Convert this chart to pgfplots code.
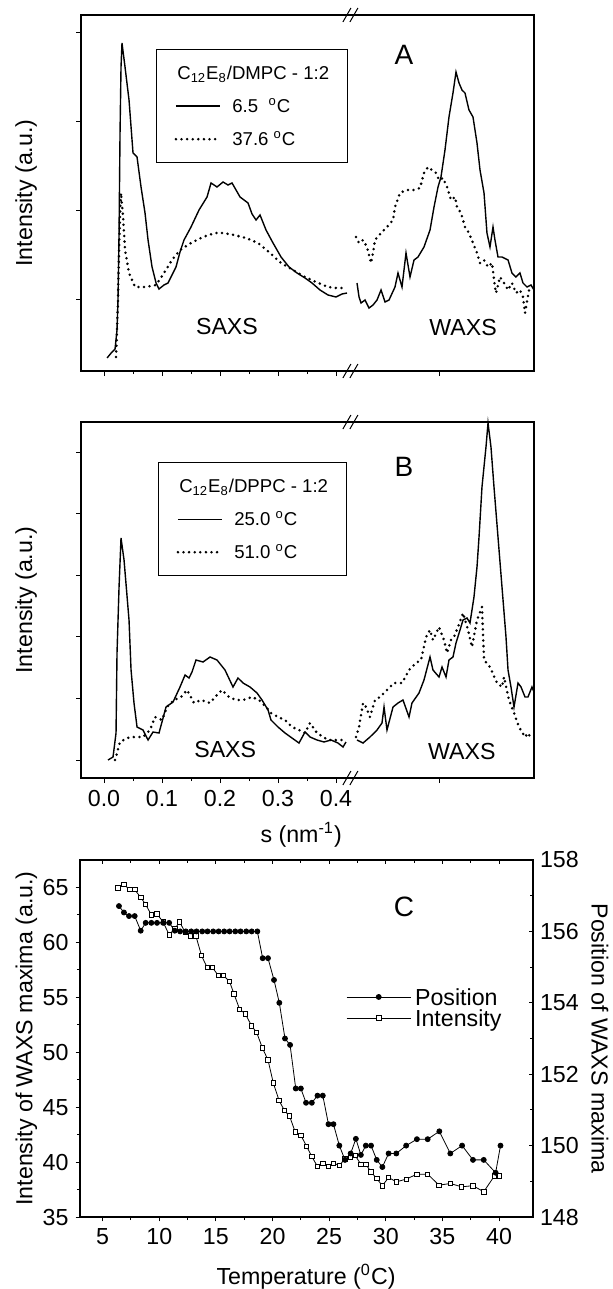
\documentclass[border=0pt]{standalone}
\usepackage{fontspec}
\setmainfont{Liberation Sans}
\usepackage{pgfplots}
\pgfplotsset{compat=1.18}
\newcommand{\mainsize}{\fontsize{11.6}{13.9}\selectfont}
\newcommand{\legsize}{\fontsize{9.3}{11}\selectfont}
\newcommand{\lettersize}{\fontsize{14}{16}\selectfont}
\pgfplotsset{
 panel/.style={
  scale only axis, width=226.5pt, height=178pt, anchor=south west,
  clip=false,
  xmin=-0.0397, xmax=0.7414, ymin=0, ymax=356,
  axis line style={line width=0.6pt},
  tick align=outside, xtick pos=bottom, ytick pos=left,
  major tick length=2.5pt, minor tick length=1.5pt,
  every tick/.style={line width=0.5pt, black},
  xtick={0,0.1,0.2,0.3,0.4}, minor xtick={0.05,0.15,0.25,0.35},
  extra x ticks={0.5793}, extra x tick labels={},
  yticklabels={},
  font=\mainsize, tick label style={font=\mainsize},
  /pgf/number format/assume math mode=true,
  ylabel={Intensity (a.u.)},
  every axis y label/.style={at={(axis description cs:-0.1214,0.5)}, rotate=90, anchor=center},
  legend cell align=left,
  legend image code/.code={\draw[##1] (0pt,0pt) -- (22pt,0pt);},
  legend style={draw=black, line width=0.5pt, font=\legsize, inner xsep=9pt, inner ysep=8.5pt,
    row sep=9.8pt, column sep=5.5pt, nodes={inner sep=0pt, text height=6.7pt, text depth=0pt}},
 },
 solidc/.style={black, line width=0.7pt},
 dotc/.style={black, line width=1.4pt, line cap=round, dash pattern=on 0pt off 2.8pt},
}
\newcommand{\brk}{%
 \draw[line width=0.5pt] (rel axis cs:0.598,0) ++(-4.5pt,-3.5pt) -- ++(4pt,7pt);
 \draw[line width=0.5pt] (rel axis cs:0.598,0) ++(-1pt,-3.5pt) -- ++(4pt,7pt);
 \draw[line width=0.5pt] (rel axis cs:0.598,1) ++(-4.5pt,-3.5pt) -- ++(4pt,7pt);
 \draw[line width=0.5pt] (rel axis cs:0.598,1) ++(-1pt,-3.5pt) -- ++(4pt,7pt);}
\begin{document}
\begin{tikzpicture}
% ---------------- Panel A ----------------
\begin{axis}[panel, at={(40.5pt,-185.5pt)},
  ytick={72,160,249,338}, xticklabels={},
  legend style={at={(rel axis cs:0.1656,0.9045)}, anchor=north west}]
\addlegendimage{empty legend}
\addlegendentry{\hspace*{-27.5pt}C\textsubscript{12}E\textsubscript{8}/DMPC - 1:2}
\addplot[solidc] coordinates {
(0.0052,13)(0.0138,19)(0.0190,22)(0.0224,41)(0.0241,71)(0.0259,138)(0.0276,238)(0.0293,304)
(0.0310,328)(0.0362,304)(0.0431,271)(0.0500,218)(0.0569,214)(0.0638,184)(0.0707,158)(0.0759,131)
(0.0828,104)(0.0897,88)(0.0948,82)(0.1034,86)(0.1103,88)(0.1172,96)(0.1241,104)(0.1310,119)
(0.1379,131)(0.1500,144)(0.1638,161)(0.1776,174)(0.1845,188)(0.1948,184)(0.2052,189)(0.2138,186)
(0.2207,188)(0.2345,174)(0.2483,168)(0.2552,157)(0.2621,151)(0.2690,156)(0.2793,141)(0.2914,128)
(0.3052,114)(0.3190,104)(0.3328,98)(0.3466,93)(0.3586,88)(0.3724,81)(0.3862,76)(0.4000,74)
(0.4103,77)(0.4190,78)};
\addlegendentry{6.5\ \ \textsuperscript{o}C}
\addplot[dotc] coordinates {
(0.0207,14)(0.0224,41)(0.0241,71)(0.0259,121)(0.0276,156)(0.0293,178)(0.0328,154)(0.0362,121)
(0.0431,98)(0.0534,84)(0.0707,84)(0.0897,86)(0.1034,98)(0.1172,111)(0.1310,121)(0.1500,128)
(0.1707,134)(0.1914,138)(0.2052,138)(0.2241,136)(0.2448,133)(0.2655,128)(0.2862,118)(0.3052,108)
(0.3259,101)(0.3466,94)(0.3655,89)(0.3862,84)(0.4000,83)(0.4138,83)};
\addlegendentry{37.6 \textsuperscript{o}C}
\addplot[solidc, forget plot] coordinates {
(0.4362,88)(0.4397,74)(0.4431,68)(0.4500,71)(0.4569,63)(0.4638,66)(0.4707,71)(0.4776,81)
(0.4845,69)(0.4914,71)(0.5017,84)(0.5069,98)(0.5138,84)(0.5207,118)(0.5276,94)(0.5345,111)
(0.5414,114)(0.5517,124)(0.5621,141)(0.5690,164)(0.5759,184)(0.5810,194)(0.5879,221)(0.5948,254)
(0.6017,278)(0.6069,299)(0.6121,288)(0.6172,281)(0.6224,278)(0.6293,261)(0.6362,254)(0.6431,228)
(0.6483,201)(0.6552,178)(0.6603,138)(0.6655,124)(0.6707,144)(0.6741,131)(0.6793,114)(0.6862,114)
(0.6966,111)(0.7034,98)(0.7103,94)(0.7172,98)(0.7224,88)(0.7293,84)(0.7362,86)(0.7414,81)};
\addplot[dotc, forget plot] coordinates {
(0.4345,134)(0.4397,128)(0.4466,131)(0.4534,124)(0.4603,108)(0.4638,118)(0.4672,131)(0.4776,138)
(0.4879,144)(0.4983,151)(0.5017,164)(0.5103,178)(0.5207,181)(0.5345,181)(0.5448,183)(0.5517,198)
(0.5586,204)(0.5655,201)(0.5724,198)(0.5776,191)(0.5845,193)(0.5914,184)(0.5983,171)(0.6052,174)
(0.6086,164)(0.6155,158)(0.6224,144)(0.6293,138)(0.6362,128)(0.6431,118)(0.6483,108)(0.6552,111)
(0.6621,104)(0.6690,108)(0.6741,84)(0.6759,78)(0.6828,94)(0.6897,88)(0.6966,81)(0.7034,88)
(0.7103,78)(0.7172,81)(0.7224,74)(0.7259,58)(0.7328,81)(0.7397,78)};
\node[font=\mainsize] at (axis cs:0.212,44) {SAXS};
\node[font=\mainsize] at (axis cs:0.619,43) {WAXS};
\node[font=\lettersize] at (axis cs:0.517,316) {A};
\brk
\end{axis}
% ---------------- Panel B ----------------
\begin{axis}[panel, at={(40.5pt,-389pt)},
  ytick={18,80,142,203,265,326},
  xticklabels={0.0,0.1,0.2,0.3,0.4},
  xlabel={s (nm\textsuperscript{-1})},
  every axis x label/.style={at={(axis description cs:0.486,-0.160)}, anchor=center},
  legend style={at={(rel axis cs:0.170,0.8876)}, anchor=north west}]
\addlegendimage{empty legend}
\addlegendentry{\hspace*{-27.5pt}C\textsubscript{12}E\textsubscript{8}/DPPC - 1:2}
\addplot[solidc] coordinates {
(0.0069,18)(0.0155,21)(0.0207,45)(0.0224,125)(0.0259,191)(0.0293,240)(0.0345,218)(0.0431,158)
(0.0466,108)(0.0517,75)(0.0569,51)(0.0672,48)(0.0759,38)(0.0845,46)(0.0948,45)(0.1069,71)
(0.1190,76)(0.1310,91)(0.1397,103)(0.1466,100)(0.1517,106)(0.1586,118)(0.1707,116)(0.1828,121)
(0.1948,118)(0.2086,108)(0.2224,91)(0.2310,100)(0.2397,95)(0.2517,91)(0.2638,85)(0.2724,78)
(0.2828,68)(0.2879,58)(0.3000,51)(0.3121,45)(0.3241,40)(0.3362,35)(0.3466,46)(0.3552,41)
(0.3672,38)(0.3793,36)(0.3914,38)(0.4034,35)(0.4121,31)(0.4172,36)};
\addlegendentry{25.0 \textsuperscript{o}C}
\addplot[dotc] coordinates {
(0.0190,18)(0.0276,36)(0.0397,40)(0.0517,41)(0.0672,41)(0.0793,48)(0.0879,61)(0.1000,58)
(0.1086,71)(0.1207,78)(0.1328,81)(0.1431,88)(0.1552,75)(0.1672,78)(0.1828,75)(0.1914,81)
(0.2034,88)(0.2155,81)(0.2276,78)(0.2397,78)(0.2552,81)(0.2672,78)(0.2793,71)(0.2879,65)
(0.3000,61)(0.3121,58)(0.3241,51)(0.3362,48)(0.3466,45)(0.3552,55)(0.3672,45)(0.3862,38)
(0.4034,38)(0.4155,38)};
\addlegendentry{51.0 \textsuperscript{o}C}
\addplot[solidc, forget plot] coordinates {
(0.4362,38)(0.4466,35)(0.4586,41)(0.4707,48)(0.4793,55)(0.4828,71)(0.4879,48)(0.4983,71)
(0.5069,75)(0.5155,78)(0.5259,61)(0.5310,75)(0.5431,85)(0.5517,98)(0.5621,121)(0.5672,108)
(0.5776,101)(0.5828,111)(0.5897,101)(0.5948,118)(0.6017,121)(0.6069,135)(0.6138,148)(0.6190,158)
(0.6259,160)(0.6310,155)(0.6379,181)(0.6431,211)(0.6466,241)(0.6517,291)(0.6586,331)(0.6621,355)
(0.6672,331)(0.6724,291)(0.6793,241)(0.6862,191)(0.6931,141)(0.6966,108)(0.7017,91)(0.7069,71)
(0.7138,95)(0.7190,91)(0.7259,81)(0.7310,81)(0.7379,91)(0.7414,86)};
\addplot[dotc, forget plot] coordinates {
(0.4345,41)(0.4397,51)(0.4466,75)(0.4517,71)(0.4586,61)(0.4672,78)(0.4759,81)(0.4879,88)
(0.5000,95)(0.5138,95)(0.5259,108)(0.5379,115)(0.5466,118)(0.5552,141)(0.5621,148)(0.5672,138)
(0.5776,151)(0.5862,138)(0.5914,125)(0.5983,138)(0.6034,141)(0.6103,151)(0.6190,165)(0.6276,148)
(0.6345,131)(0.6431,158)(0.6517,171)(0.6552,118)(0.6655,111)(0.6776,95)(0.6862,91)(0.6897,101)
(0.6983,78)(0.7069,65)(0.7155,51)(0.7259,41)(0.7310,45)(0.7379,38)};
\node[font=\mainsize] at (axis cs:0.209,28) {SAXS};
\node[font=\mainsize] at (axis cs:0.617,26) {WAXS};
\node[font=\lettersize] at (axis cs:0.517,311) {B};
\brk
\end{axis}
% ---------------- Panel C ----------------
\begin{axis}[scale only axis, width=226.5pt, height=178.5pt, at={(40pt,-608.5pt)}, anchor=south west,
  xmin=3, xmax=43, ymin=35, ymax=67.5,
  axis line style={line width=0.6pt},
  tick align=outside, xtick pos=bottom, ytick pos=left,
  major tick length=2.2pt, minor tick length=1.5pt,
  every tick/.style={line width=0.5pt, black},
  xtick={5,10,...,40}, minor x tick num=1,
  ytick={35,40,...,65}, minor y tick num=1,
  font=\mainsize, tick label style={font=\mainsize},
  /pgf/number format/assume math mode=true,
  xlabel={Temperature (\textsuperscript{0}C)},
  every axis x label/.style={at={(axis description cs:0.499,-0.168)}, anchor=center},
  ylabel={Intensity of WAXS maxima (a.u.)},
  every axis y label/.style={at={(axis description cs:-0.1181,0.5)}, rotate=90, anchor=center},
  legend cell align=left,
  legend image code/.code={\draw[mark repeat=2, mark phase=2, #1] plot coordinates {(0pt,0pt) (16pt,0pt) (32pt,0pt)};},
  legend style={at={(rel axis cs:0.587,0.587)}, anchor=west, draw=none, fill=none, font=\mainsize,
    inner sep=0pt, row sep=2.2pt, column sep=2pt, nodes={inner sep=0pt, text height=8.3pt, text depth=0pt}}]
\addlegendimage{black, line width=0.4pt, mark=*, mark size=1.25pt, mark options={fill=black}}
\addlegendentry{Position}
\addplot[black, line width=0.4pt, mark=square*, mark size=1.1pt, mark options={fill=white}] coordinates {
(6.35,64.97)(6.89,65.27)(7.39,64.8)(7.83,64.8)(8.36,64.1)(8.8,63.45)(9.3,62.5)(9.8,62.6)
(10.34,61.85)(10.87,60.7)(11.37,61.25)(11.8,61.85)(12.3,60.9)(12.76,60.6)(13.23,60.6)(13.73,58.8)
(14.23,57.7)(14.7,57.7)(15.2,57.0)(15.65,57.0)(16.2,56.45)(16.6,55.3)(17.1,53.9)(17.6,53.5)
(18.15,52.4)(18.6,51.8)(19.1,50.4)(19.6,49.3)(20.07,47.2)(20.58,45.6)(21.05,44.7)(21.5,44.2)
(22.0,42.75)(22.5,42.45)(23.0,41.45)(23.47,40.5)(23.97,39.6)(24.44,39.9)(24.94,39.6)(25.38,39.9)
(25.9,39.7)(26.4,40.3)(26.86,40.45)(27.3,40.6)(27.8,39.8)(28.24,39.8)(28.7,39.1)(29.2,38.5)
(29.7,37.85)(30.25,38.6)(30.93,38.2)(31.8,38.45)(32.75,38.9)(33.7,38.9)(34.7,37.9)(35.7,38.05)
(36.7,37.75)(37.7,37.85)(38.65,37.3)(39.6,38.75)(40.05,38.75)};
\addlegendentry{Intensity}
\node[font=\lettersize] at (axis cs:31.6,63.2) {C};
\end{axis}
\begin{axis}[scale only axis, width=226.5pt, height=178.5pt, at={(40pt,-608.5pt)}, anchor=south west,
  xmin=3, xmax=43, ymin=148, ymax=158,
  axis line style={line width=0.6pt},
  tick align=inside, xtick pos=top, ytick pos=right, yticklabel pos=right,
  major tick length=2.2pt, minor tick length=1.5pt,
  every tick/.style={line width=0.5pt, black},
  xtick={5,10,...,40}, minor x tick num=1, xticklabels={},
  ytick={148,150,...,158}, minor y tick num=1,
  font=\mainsize, tick label style={font=\mainsize},
  /pgf/number format/assume math mode=true,
  ylabel={Position of WAXS maxima},
  every axis y label/.style={at={(axis description cs:1.1479,0.5)}, rotate=-90, anchor=center}]
\addplot[black, line width=0.4pt, mark=*, mark size=1.25pt, mark options={fill=black}] coordinates {
(6.44,156.71)(6.88,156.53)(7.33,156.43)(7.83,156.43)(8.36,156.02)(8.8,156.24)(9.3,156.24)(9.8,156.24)
(10.34,156.24)(10.87,156.24)(11.37,156.02)(11.84,156.0)(12.35,156.0)(12.82,156.0)(13.29,156.0)
(13.79,156.0)(14.26,156.0)(14.76,156.0)(15.24,156.0)(15.73,156.0)(16.21,156.0)(16.71,156.0)
(17.18,156.0)(17.68,156.0)(18.16,156.0)(18.66,156.0)(19.13,155.25)(19.6,155.25)(20.13,154.64)
(20.6,154.0)(21.1,153.0)(21.55,152.82)(22.05,151.6)(22.5,151.6)(22.96,151.2)(23.47,151.2)
(23.97,151.4)(24.44,151.4)(24.94,150.6)(25.38,150.6)(25.9,150.0)(26.4,149.6)(26.9,149.78)
(27.36,150.19)(27.8,149.74)(28.24,150.0)(28.7,150.0)(29.2,149.6)(29.7,149.4)(30.25,149.78)
(30.93,149.78)(31.8,150.0)(32.75,150.18)(33.7,150.18)(34.73,150.4)(35.7,149.78)(36.74,150.0)
(37.7,149.6)(38.65,149.6)(39.7,149.24)(40.13,150.0)};
\end{axis}
\pgfresetboundingbox
\useasboundingbox (0,0) rectangle (306pt,-644.5pt);
\end{tikzpicture}
\end{document}
